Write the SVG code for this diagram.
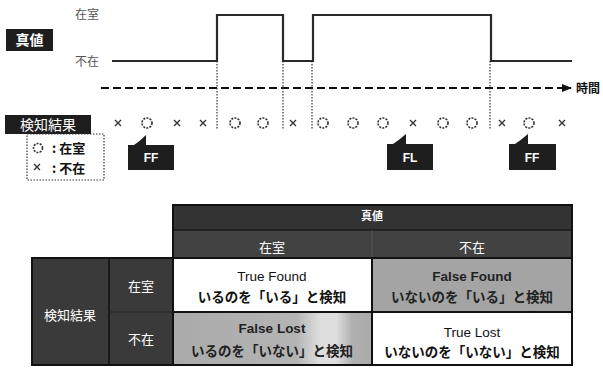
<svg xmlns="http://www.w3.org/2000/svg" width="603" height="369" viewBox="0 0 603 369">
<defs>
<style>
.jp{font-family:"Noto Sans CJK JP","Liberation Sans",sans-serif}
.lat{font-family:"Liberation Sans","Noto Sans CJK JP",sans-serif}
.sig{fill:none;stroke:#2a2a2a;stroke-width:2.2}
.vdot{stroke:#333;stroke-width:1.2;stroke-dasharray:1.5 1.5}
.circ{fill:none;stroke:#333;stroke-width:1.6;stroke-dasharray:2 1.2}
.cross{stroke:#333;stroke-width:1.4}
.dark{fill:#1e1e1e}
.grid{fill:none;stroke:#111;stroke-width:2}
</style>
<marker id="arr" markerWidth="10" markerHeight="8" refX="9" refY="4" orient="auto" markerUnits="userSpaceOnUse">
<path d="M0,0 L10,4 L0,8 Z" fill="#111"/>
</marker>
<linearGradient id="fl" x1="0" x2="1" y1="0" y2="0">
<stop offset="0" stop-color="#aaa"/>
<stop offset="0.62" stop-color="#b4b4b4"/>
<stop offset="0.74" stop-color="#dedede"/>
<stop offset="0.82" stop-color="#dedede"/>
<stop offset="0.9" stop-color="#b0b0b0"/>
<stop offset="1" stop-color="#aaa"/>
</linearGradient>
</defs>
<rect width="603" height="369" fill="#fff"/>

<g id="truth-label">
<rect x="6" y="29" width="47" height="22" class="dark"/>
<text x="29.5" y="45" class="jp" font-size="14" font-weight="bold" fill="#fff" text-anchor="middle">真値</text>
<text x="87" y="19" class="jp" font-size="12" fill="#555" text-anchor="middle">在室</text>
<text x="87" y="66" class="jp" font-size="12" fill="#555" text-anchor="middle">不在</text>
</g>

<g id="signal">
<path class="sig" d="M112,61 H217 V15 H283 V61 H313 V15 H491 V61 H572"/>
</g>

<g id="connectors">
<line x1="101" y1="88" x2="571" y2="88" stroke="#111" stroke-width="2" stroke-dasharray="8 4" marker-end="url(#arr)"/>
<line class="vdot" x1="217" y1="61" x2="217" y2="130"/>
<line class="vdot" x1="283" y1="61" x2="283" y2="130"/>
<line class="vdot" x1="312" y1="61" x2="312" y2="130"/>
<line class="vdot" x1="490" y1="61" x2="490" y2="130"/>
</g>
<text x="576" y="93" class="jp" font-size="12" font-weight="bold" fill="#111">時間</text>

<g id="detect-label">
<rect x="5" y="115" width="86" height="19" class="dark"/>
<text x="48" y="130" class="jp" font-size="14" fill="#fff" text-anchor="middle">検知結果</text>
</g>

<g id="legend">
<rect x="27" y="134" width="77" height="46" fill="none" stroke="#333" stroke-width="1.2" stroke-dasharray="1.5 1.5"/>
<circle class="circ" cx="38" cy="148" r="4.5"/>
<path class="cross" d="M34,164 L40,170 M34,170 L40,164"/>
<text x="52" y="153" class="jp" font-size="13" font-weight="bold" fill="#111">: 在室</text>
<text x="52" y="173" class="jp" font-size="13" font-weight="bold" fill="#111">: 不在</text>
</g>

<g id="detections">
<path class="cross" d="M115,120 L121,126 M115,126 L121,120"/>
<circle class="circ" cx="147" cy="123" r="5"/>
<path class="cross" d="M174,120 L180,126 M174,126 L180,120"/>
<path class="cross" d="M200,120 L206,126 M200,126 L206,120"/>
<circle class="circ" cx="235" cy="123" r="5"/>
<circle class="circ" cx="263" cy="123" r="5"/>
<path class="cross" d="M290,120 L296,126 M290,126 L296,120"/>
<circle class="circ" cx="323" cy="123" r="5"/>
<circle class="circ" cx="353" cy="123" r="5"/>
<circle class="circ" cx="383" cy="123" r="5"/>
<path class="cross" d="M410,120 L416,126 M410,126 L416,120"/>
<circle class="circ" cx="443" cy="123" r="5"/>
<circle class="circ" cx="472" cy="123" r="5"/>
<path class="cross" d="M499,120 L505,126 M499,126 L505,120"/>
<circle class="circ" cx="529" cy="123" r="5"/>
<path class="cross" d="M559,120 L565,126 M559,126 L565,120"/>
</g>

<g id="callout-ff1">
<path class="dark" d="M128,145 H134 Q140,141 146,135 V145 H174 V170 H128 Z"/>
<text x="151" y="162" class="lat" font-size="12" font-weight="bold" fill="#fff" text-anchor="middle">FF</text>
</g>
<g id="callout-fl">
<path class="dark" d="M387,144 H393 Q399,140 406,134 V144 H433 V170 H387 Z"/>
<text x="410" y="162" class="lat" font-size="12" font-weight="bold" fill="#fff" text-anchor="middle">FL</text>
</g>
<g id="callout-ff2">
<path class="dark" d="M509,144 H515 Q521,140 528,134 V144 H556 V170 H509 Z"/>
<text x="532" y="162" class="lat" font-size="12" font-weight="bold" fill="#fff" text-anchor="middle">FF</text>
</g>

<g id="table-header">
<rect x="173" y="205" width="399" height="25" fill="#333"/>
<rect x="173" y="230" width="399" height="28" fill="#424242"/>
<line x1="173" y1="230" x2="572" y2="230" stroke="#1a1a1a" stroke-width="1.5"/>
<line x1="372" y1="230" x2="372" y2="258" stroke="#555" stroke-width="1"/>
<text x="372" y="220" class="jp" font-size="11" font-weight="bold" fill="#fff" text-anchor="middle">真値</text>
<text x="272" y="252" class="jp" font-size="13" fill="#fff" text-anchor="middle">在室</text>
<text x="472" y="252" class="jp" font-size="13" fill="#fff" text-anchor="middle">不在</text>
</g>

<g id="table-rowheader">
<rect x="32" y="258" width="141" height="107" fill="#3a3a3a"/>
<line x1="109" y1="258" x2="109" y2="365" stroke="#111" stroke-width="1.5"/>
<line x1="109" y1="312" x2="173" y2="312" stroke="#222" stroke-width="1"/>
<text x="70" y="320" class="jp" font-size="13" fill="#fff" text-anchor="middle">検知結果</text>
<text x="141" y="291" class="jp" font-size="13" fill="#fff" text-anchor="middle">在室</text>
<text x="141" y="344" class="jp" font-size="13" fill="#fff" text-anchor="middle">不在</text>
</g>

<g id="cell-tf">
<rect x="173" y="258" width="199" height="54" fill="#fff"/>
<text x="272" y="281" class="lat" font-size="13.5" fill="#111" text-anchor="middle">True Found</text>
<text x="272" y="302" class="jp" font-size="13.5" font-weight="bold" fill="#111" text-anchor="middle">いるのを「いる」と検知</text>
</g>
<g id="cell-ff">
<rect x="372" y="258" width="200" height="54" fill="#a4a4a4"/>
<text x="472" y="281" class="lat" font-size="13.5" font-weight="bold" fill="#222" text-anchor="middle">False Found</text>
<text x="472" y="302" class="jp" font-size="13.5" font-weight="bold" fill="#222" text-anchor="middle">いないのを「いる」と検知</text>
</g>
<g id="cell-fl">
<rect x="173" y="312" width="199" height="53" fill="url(#fl)"/>
<text x="272" y="333" class="lat" font-size="13.5" font-weight="bold" fill="#222" text-anchor="middle">False Lost</text>
<text x="272" y="356" class="jp" font-size="13.5" font-weight="bold" fill="#222" text-anchor="middle">いるのを「いない」と検知</text>
</g>
<g id="cell-tl">
<rect x="372" y="312" width="200" height="53" fill="#fff"/>
<text x="472" y="337" class="lat" font-size="13.5" fill="#111" text-anchor="middle">True Lost</text>
<text x="472" y="357" class="jp" font-size="13.5" font-weight="bold" fill="#111" text-anchor="middle">いないのを「いない」と検知</text>
</g>

<g id="table-grid">
<rect class="grid" x="173" y="205" width="399" height="160"/>
<rect class="grid" x="32" y="258" width="540" height="107"/>
<line x1="173" y1="258" x2="572" y2="258" stroke="#111" stroke-width="2"/>
<line x1="173" y1="312" x2="572" y2="312" stroke="#111" stroke-width="2"/>
<line x1="372" y1="258" x2="372" y2="365" stroke="#111" stroke-width="2"/>
</g>
</svg>
